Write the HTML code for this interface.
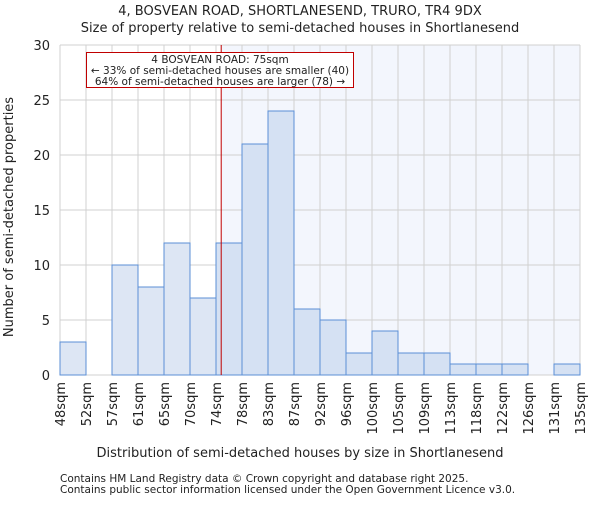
<!DOCTYPE html>
<html><head><meta charset="utf-8"><style>
body{margin:0;background:#fff;font-family:"Liberation Sans","DejaVu Sans",sans-serif}
svg text{font-family:"DejaVu Sans","Liberation Sans",sans-serif;fill:#222}
</style></head><body>
<svg id="chart" width="600" height="500">
<text x="300" y="15" font-size="13" text-anchor="middle">4, BOSVEAN ROAD, SHORTLANESEND, TRURO, TR4 9DX</text>
<text x="300" y="32" font-size="13" text-anchor="middle">Size of property relative to semi-detached houses in Shortlanesend</text>
<g id="plot"></g>
<text x="300" y="457" font-size="13" text-anchor="middle">Distribution of semi-detached houses by size in Shortlanesend</text>
<text transform="translate(13,217) rotate(-90)" font-size="13" text-anchor="middle">Number of semi-detached properties</text>
<text x="60" y="482" font-size="10.5">Contains HM Land Registry data © Crown copyright and database right 2025.</text>
<text x="60" y="493" font-size="10.5">Contains public sector information licensed under the Open Government Licence v3.0.</text>
</svg>
<script>
const categories=["48sqm","52sqm","57sqm","61sqm","65sqm","70sqm","74sqm","78sqm","83sqm","87sqm","92sqm","96sqm","100sqm","105sqm","109sqm","113sqm","118sqm","122sqm","126sqm","131sqm","135sqm"];
const counts=[3,0,10,8,12,7,12,21,24,6,5,2,4,2,2,1,1,1,0,1];
const yTicks=[0,5,10,15,20,25,30];
const markerIndex=6.2;
const NS="http://www.w3.org/2000/svg";
const L=60,R=580,T=45,B=375,yMax=30;
const g=document.getElementById('plot');
const n=counts.length,bw=(R-L)/n;
const x=i=>L+i*bw, y=v=>B-(v/yMax)*(B-T);
function mk(t,a){const e=document.createElementNS(NS,t);for(const k in a)e.setAttribute(k,a[k]);g.appendChild(e);return e;}
const mx=x(markerIndex);
let e=mk('rect',{x:mx,y:T,width:R-mx,height:B-T,fill:'#f3f6fd'});


categories.forEach((c,i)=>{const l=mk('line',{x1:x(i),x2:x(i),y1:T,y2:B,stroke:'#d0d0d0'});

});
yTicks.forEach(v=>{const l=mk('line',{x1:L,x2:R,y1:y(v),y2:y(v),stroke:'#d0d0d0'});


const t=mk('text',{x:L-10,y:y(v)+5,'font-size':13,'text-anchor':'end'});t.textContent=v;

});
counts.forEach((v,i)=>{if(!v)return;const r=mk('rect',{x:x(i),y:y(v),width:bw,height:B-y(v),fill:(i+0.5<markerIndex)?'#dde6f4':'#d5e1f3',stroke:'#5b8fd6','stroke-width':1});

});
categories.forEach((c,i)=>{const t=mk('text',{transform:`translate(${x(i)+5},382) rotate(-90)`,'font-size':13,'text-anchor':'end'});t.textContent=c;

});
e=mk('line',{x1:mx,x2:mx,y1:T,y2:B,stroke:'#c00000','stroke-width':1});


e=mk('rect',{x:86.5,y:52.5,width:267,height:35,fill:'#fff',stroke:'#c00000'});


["4 BOSVEAN ROAD: 75sqm","← 33% of semi-detached houses are smaller (40)","64% of semi-detached houses are larger (78) →"].forEach((s,k)=>{const t=mk('text',{x:220,y:63+k*11,'font-size':10.5,'text-anchor':'middle'});t.textContent=s;

});
</script>
</body></html>
